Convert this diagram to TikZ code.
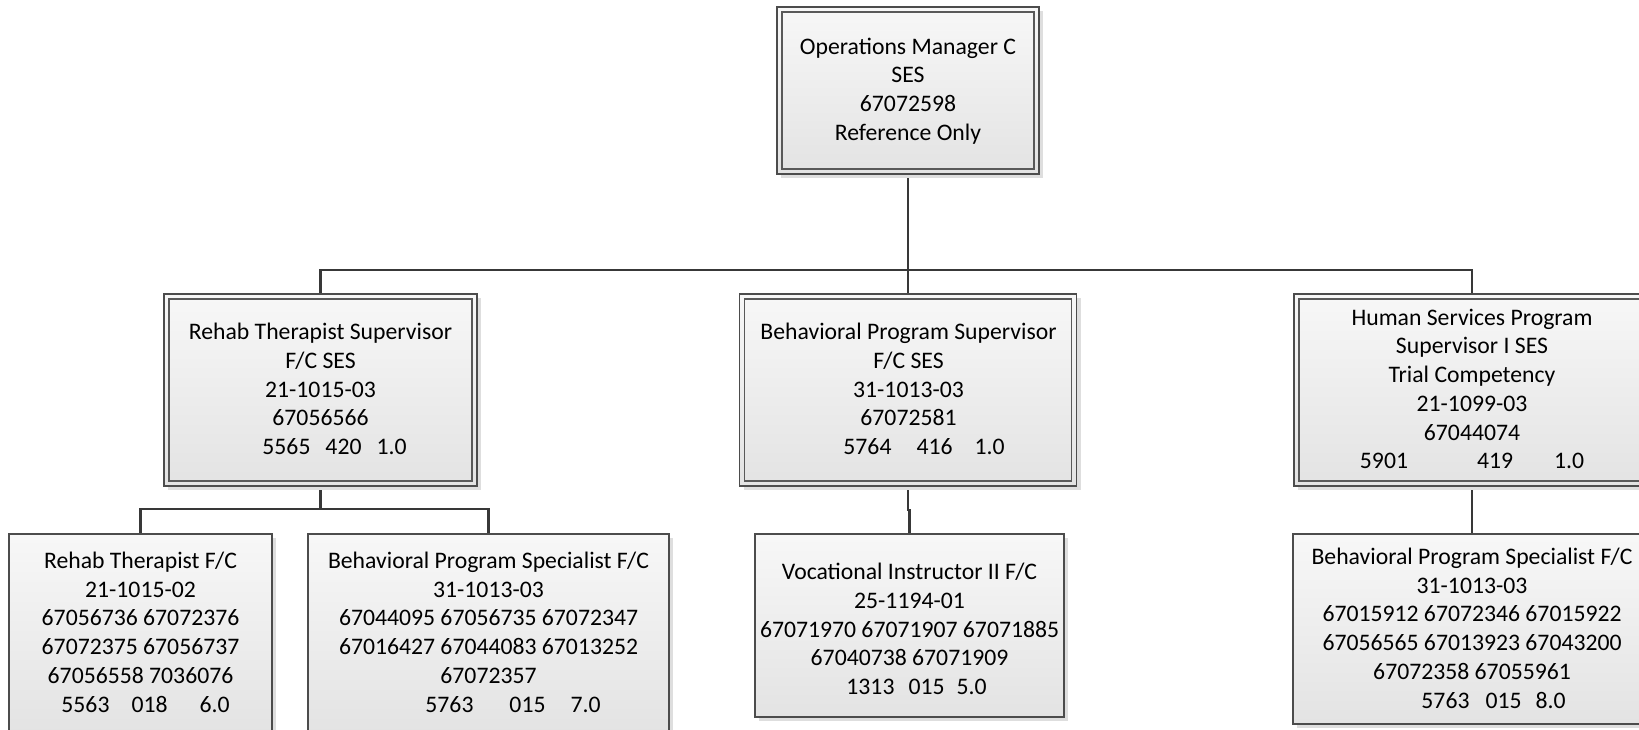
\documentclass[tikz,border=0pt]{standalone}
\usepackage{fontspec}
\setmainfont{Carlito}
\usetikzlibrary{shadows}
\pgfdeclarelayer{bg}
\pgfsetlayers{bg,main}
\begin{document}
\begin{tikzpicture}[x=1pt,y=-1pt,
  wire/.style={draw=black!78, line width=2.6pt},
  box/.style={rectangle, draw=black!70, line width=1.3pt, inner sep=0pt, outer sep=0pt,
    top color=white!97!black, bottom color=black!11,
    drop shadow={shadow xshift=4pt, shadow yshift=-4pt, fill=black!13, opacity=1}},
  innerframe/.style={draw=black!65, line width=1.2pt},
  txt/.style={align=center, inner sep=0pt, text=black,
    font=\fontsize{23.7}{28.75}\selectfont}
]
\useasboundingbox (0,0) rectangle (1639,730);
\clip (0,0) rectangle (1639,730);

% boxes: manager and supervisors (double frame)
\node[box, minimum width=262, minimum height=167] (ops) at (908,90.5) {};
\node[box, minimum width=313, minimum height=192] (rts) at (320.5,390) {};
\node[box, minimum width=337, minimum height=192] (bps) at (908,390) {};
\node[box, minimum width=356, minimum height=192] (hss) at (1472,390) {};
\foreach \n in {ops,rts,bps,hss}
  \draw[innerframe] ([shift={(5,5)}]\n.north west) rectangle ([shift={(-5,-5)}]\n.south east);

% boxes: staff positions (single frame)
\node[box, anchor=north west, minimum width=263, minimum height=200] (rt) at (9,534) {};
\node[box, anchor=north west, minimum width=361, minimum height=200] (bp1) at (308,534) {};
\node[box, anchor=north west, minimum width=309, minimum height=183] (voc) at (755,534) {};
\node[box, anchor=north west, minimum width=358, minimum height=190] (bp2) at (1293,534) {};

% texts
\node[txt] (opsT) at (908,91) {Operations Manager C\\SES\\67072598\\Reference Only};
\node[txt] (rtsT) at (320.5,389) {Rehab Therapist Supervisor\\F/C SES\\21-1015-03\\67056566\\\hspace*{28pt}5565\hspace{15pt}420\hspace{15pt}1.0};
\node[txt] (bpsT) at (908.5,389) {Behavioral Program Supervisor\\F/C SES\\31-1013-03\\67072581\\\hspace*{31pt}5764\hspace{25pt}416\hspace{22pt}1.0};
\node[txt] (hssT) at (1472,389) {Human Services Program\\Supervisor I SES\\Trial Competency\\21-1099-03\\67044074\\5901\hspace{69pt}419\hspace{41pt}1.0};
\node[txt] (rtT) at (140.5,632) {Rehab Therapist F/C\\21-1015-02\\67056736 67072376\\67072375 67056737\\67056558 7036076\\\hspace*{10pt}5563\hspace{22pt}018\hspace{32pt}6.0};
\node[txt] (bp1T) at (488.5,632) {Behavioral Program Specialist F/C\\31-1013-03\\67044095 67056735 67072347\\67016427 67044083 67013252\\67072357\\\hspace*{49pt}5763\hspace{36pt}015\hspace{25pt}7.0};
\node[txt] (vocT) at (909.5,629) {Vocational Instructor II F/C\\25-1194-01\\67071970 67071907 67071885\\67040738 67071909\\\hspace*{14pt}1313\hspace{14pt}015\hspace{12pt}5.0};
\node[txt] (bp2T) at (1472,628) {Behavioral Program Specialist F/C\\31-1013-03\\67015912 67072346 67015922\\67056565 67013923 67043200\\67072358 67055961\\\hspace*{43pt}5763\hspace{16pt}015\hspace{14pt}8.0};

% connectors
\begin{pgfonlayer}{bg}
  \draw[wire] (ops.south) -- ++(0,96) coordinate (j0);
  \draw[wire] (rts.north) |- (j0) -| (hss.north);
  \draw[wire] (j0) -- (bps.north);
  \draw[wire] (rts.south) -- ++(0,23) coordinate (j1);
  \draw[wire] (rt.north) |- (j1) -| (bp1.north);
  \draw[wire] (bps.south) -- ++(0,24) -| (voc.north);
  \draw[wire] (hss.south) -- (bp2.north);
\end{pgfonlayer}
\end{tikzpicture}
\end{document}
